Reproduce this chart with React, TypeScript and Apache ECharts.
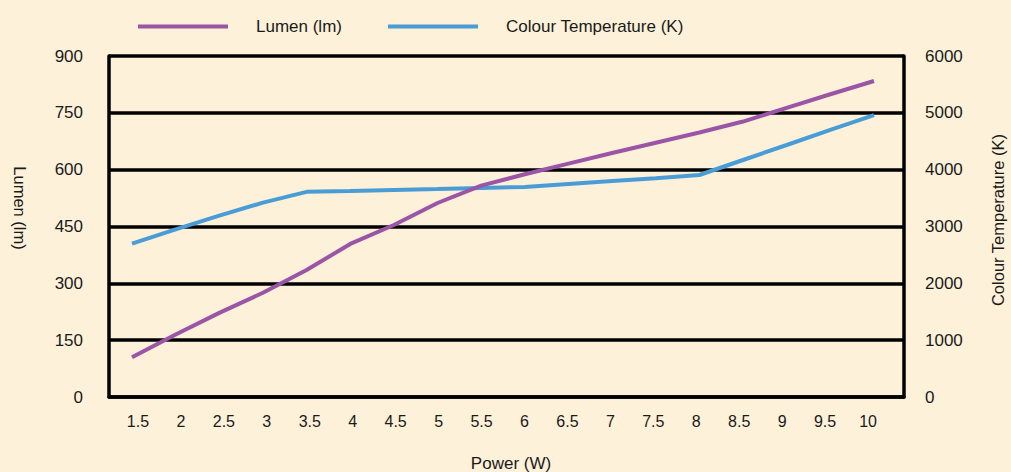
import React, { useEffect, useRef } from "react";
import * as echarts from "echarts";

// ---- Data ----
const powerLabels = ["1.5", "2", "2.5", "3", "3.5", "4", "4.5", "5", "5.5", "6", "6.5", "7", "7.5", "8", "8.5", "9", "9.5", "10"];
const lumen = [105, 165, 222, 275, 335, 404, 454, 512, 558, 588, 616, 644, 671, 698, 727, 763, 799, 834];
const colourTemp = [2700, 2950, 3190, 3420, 3610, 3625, 3643, 3660, 3678, 3695, 3748, 3800, 3850, 3906, 4170, 4434, 4700, 4960];
const lumenTicks = { min: 0, max: 900, interval: 150 };
const tempTicks = { min: 0, max: 6000, interval: 1000 };

const LUMEN_NAME = "Lumen (lm)";
const TEMP_NAME = "Colour Temperature (K)";
const X_NAME = "Power (W)";

const BG = "#FDF1D9";
const PURPLE = "#9B55A6";
const BLUE = "#4A9CD6";
const FONT = "'Liberation Sans', Arial, Helvetica, sans-serif";
const TXT = "#1a1a1a";

export default function App() {
  const ref = useRef<HTMLDivElement>(null);

  useEffect(() => {
    document.body.style.margin = "0";
    document.body.style.background = BG;
    if (!ref.current) return;
    const chart = echarts.init(ref.current, null, { renderer: "svg" });

    const lumenData = powerLabels.map((p, i) => [Number(p), lumen[i]]);
    const tempData = powerLabels.map((p, i) => [Number(p), colourTemp[i]]);

    const legendText = { fontSize: 17, color: TXT, fontFamily: FONT, padding: [0, 0, 0, 23] };

    const option: any = {
      animation: false,
      backgroundColor: BG,
      textStyle: { fontFamily: FONT },
      legend: [
        {
          data: [LUMEN_NAME],
          left: 133,
          top: 13,
          icon: "rect",
          itemWidth: 90,
          itemHeight: 4,
          textStyle: legendText,
        },
        {
          data: [TEMP_NAME],
          left: 383,
          top: 13,
          icon: "rect",
          itemWidth: 90,
          itemHeight: 4,
          textStyle: legendText,
        },
      ],
      grid: [
        { left: 109, right: 107, top: 56, bottom: 75 },
        { left: 116.5, right: 121.5, top: 56, bottom: 75 },
      ],
      xAxis: [
        {
          type: "value",
          gridIndex: 0,
          min: 1.2365,
          max: 10.344,
          axisLine: { show: true, onZero: false, lineStyle: { color: "#000", width: 3.5 } },
          axisTick: { show: false },
          axisLabel: { show: false },
          splitLine: { show: false },
        },
        {
          type: "category",
          gridIndex: 1,
          data: powerLabels,
          boundaryGap: true,
          axisLine: { show: false },
          axisTick: { show: false },
          splitLine: { show: false },
          axisLabel: { fontSize: 16, color: TXT, fontFamily: FONT, margin: 16, interval: 0 },
        },
      ],
      yAxis: [
        {
          type: "value",
          gridIndex: 0,
          position: "left",
          min: lumenTicks.min,
          max: lumenTicks.max,
          interval: lumenTicks.interval,
          axisLine: { show: true, lineStyle: { color: "#000", width: 3.5 } },
          axisTick: { show: false },
          axisLabel: { fontSize: 17, color: TXT, fontFamily: FONT, margin: 26, formatter: (v: number) => String(v) },
          splitLine: { show: true, lineStyle: { color: "#000", width: 3.5 } },
        },
        {
          type: "value",
          gridIndex: 0,
          position: "right",
          min: tempTicks.min,
          max: tempTicks.max,
          interval: tempTicks.interval,
          axisLine: { show: true, lineStyle: { color: "#000", width: 3.5 } },
          axisTick: { show: false },
          axisLabel: { fontSize: 17, color: TXT, fontFamily: FONT, margin: 21, formatter: (v: number) => String(v) },
          splitLine: { show: false },
        },
        {
          type: "value",
          gridIndex: 1,
          show: false,
        },
      ],
      series: [
        {
          name: LUMEN_NAME,
          type: "line",
          xAxisIndex: 0,
          yAxisIndex: 0,
          data: lumenData,
          showSymbol: false,
          symbol: "none",
          color: PURPLE,
          lineStyle: { color: PURPLE, width: 4 },
          z: 3,
        },
        {
          name: TEMP_NAME,
          type: "line",
          xAxisIndex: 0,
          yAxisIndex: 1,
          data: tempData,
          showSymbol: false,
          symbol: "none",
          color: BLUE,
          lineStyle: { color: BLUE, width: 4 },
          z: 2,
        },
      ],
      graphic: [
        {
          type: "text",
          x: 20,
          y: 208,
          rotation: -Math.PI / 2,
          style: { text: LUMEN_NAME, fontSize: 16.5, fontFamily: FONT, fill: TXT, align: "center", verticalAlign: "middle" },
        },
        {
          type: "text",
          x: 998,
          y: 220,
          rotation: Math.PI / 2,
          style: { text: TEMP_NAME, fontSize: 16.5, fontFamily: FONT, fill: TXT, align: "center", verticalAlign: "middle" },
        },
        {
          type: "text",
          x: 511,
          y: 463,
          style: { text: X_NAME, fontSize: 17, fontFamily: FONT, fill: TXT, align: "center", verticalAlign: "middle" },
        },
      ],
    };

    chart.setOption(option);
    return () => chart.dispose();
  }, []);

  return (
    <div
      ref={ref}
      style={{ position: "absolute", left: 0, top: 0, width: 1011, height: 472 }}
    />
  );
}
